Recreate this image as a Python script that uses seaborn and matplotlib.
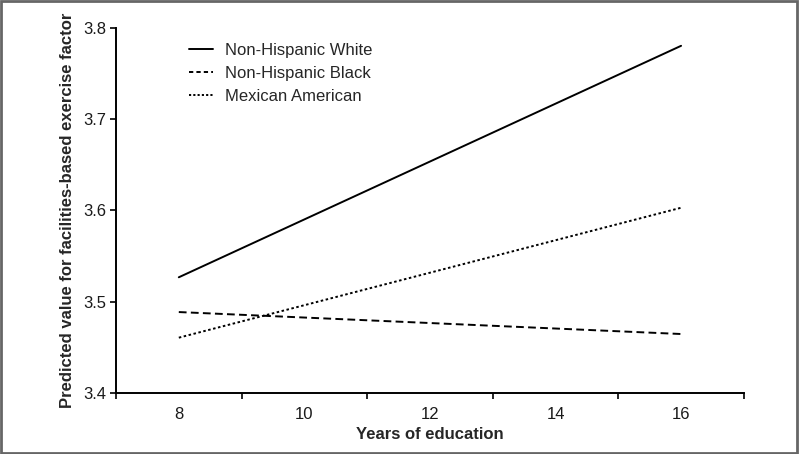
import pandas as pd
import matplotlib
matplotlib.use("Agg")
import matplotlib.pyplot as plt
import seaborn as sns
from matplotlib.patches import Rectangle
from matplotlib.lines import Line2D

# predicted values at 8 and 16 years of education
years = [8, 16]
groups = ["Non-Hispanic White", "Non-Hispanic Black", "Mexican American"]
white = [3.527, 3.780]
black = [3.489, 3.465]
mexican = [3.461, 3.603]

x_labels = [8, 10, 12, 14, 16]
y_ticks = [3.4, 3.5, 3.6, 3.7, 3.8]

df = pd.DataFrame({
    "years": years * 3,
    "value": white + black + mexican,
    "group": [groups[0]] * 2 + [groups[1]] * 2 + [groups[2]] * 2,
})

sns.set_style("white")
plt.rcParams["font.family"] = ["Liberation Sans", "DejaVu Sans"]

fig = plt.figure(figsize=(7.99, 4.54), dpi=100)
ax = fig.add_axes([0.1452, 0.1333, 0.7858, 0.8061])

dash_map = {
    groups[0]: "",
    groups[1]: (4, 2.2),
    groups[2]: (1.3, 1.3),
}
sns.lineplot(data=df, x="years", y="value", style="group", dashes=dash_map,
             color="black", linewidth=1.4, ax=ax, legend=False)

ax.set_xlim(7, 17)
ax.set_ylim(3.4, 3.8)

# tick marks sit between the categories, labels centred on them
ax.set_xticks([7, 9, 11, 13, 15, 17])
ax.set_xticklabels([])
ax.set_xticks(x_labels, minor=True)
ax.set_xticklabels([str(v) for v in x_labels], minor=True)
ax.tick_params(axis="x", which="major", direction="out", length=4, width=1.2,
               colors="black", bottom=True)
ax.tick_params(axis="x", which="minor", length=0, labelsize=12, pad=10,
               labelcolor="#1a1a1a")

ax.set_yticks(y_ticks)
ax.set_yticklabels([f"{v:.1f}" for v in y_ticks])
ax.tick_params(axis="y", direction="out", length=4, width=1.2, colors="black",
               left=True, labelsize=12, pad=3, labelcolor="#1a1a1a")

for side in ["top", "right"]:
    ax.spines[side].set_visible(False)
for side in ["left", "bottom"]:
    ax.spines[side].set_color("black")
    ax.spines[side].set_linewidth(1.4)

ax.set_xlabel("Years of education", fontsize=12, fontweight="bold", labelpad=3)
ax.set_ylabel("Predicted value for facilities-based exercise factor",
              fontsize=12, fontweight="bold", labelpad=6)

handles = [
    Line2D([], [], color="black", linewidth=1.4, linestyle="-"),
    Line2D([], [], color="black", linewidth=1.4, linestyle=(0, (2.2, 1.6))),
    Line2D([], [], color="black", linewidth=1.4, linestyle=(0, (1.1, 1.1))),
]
ax.legend(handles, groups, loc="upper left", bbox_to_anchor=(0.092, 1.0),
          frameon=False, fontsize=12, handlelength=1.45, handletextpad=0.7,
          labelspacing=0.5)

# grey frame round the whole picture
fig.patches.append(Rectangle((0.001, 0.002), 0.997, 0.995, transform=fig.transFigure,
                             fill=False, edgecolor="#666666", linewidth=2))

fig.savefig("out.png", dpi=100)
